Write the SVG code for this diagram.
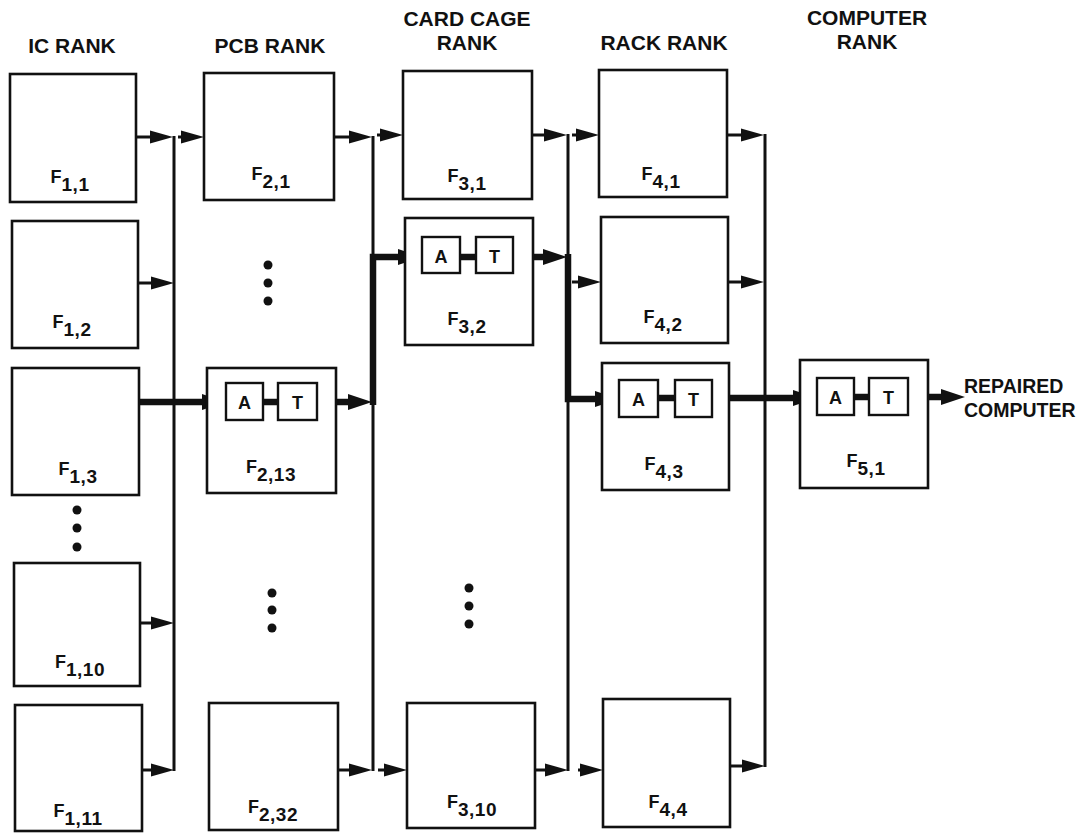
<svg xmlns="http://www.w3.org/2000/svg" width="1087" height="833" viewBox="0 0 1087 833">
<style>
.box{fill:#fff;stroke:#111;stroke-width:2.6}
.sb{fill:#fff;stroke:#111;stroke-width:2.4}
.hd{font-family:"Liberation Sans",Arial,sans-serif;font-weight:bold;font-size:21px;fill:#111;text-anchor:middle}
.lb{font-family:"Liberation Sans",Arial,sans-serif;font-weight:bold;font-size:18px;fill:#111;text-anchor:middle}
.sub{font-size:19px;letter-spacing:0.5px}
.at{font-family:"Liberation Sans",Arial,sans-serif;font-weight:bold;font-size:18px;fill:#111;text-anchor:middle}
.out{font-family:"Liberation Sans",Arial,sans-serif;font-weight:bold;font-size:19.5px;fill:#111}
.th{stroke:#111;stroke-width:3;fill:none}
.tk{stroke:#111;stroke-width:6.5;fill:none}
.dot{fill:#111}
</style>
<defs>
<marker id="ah" markerUnits="userSpaceOnUse" markerWidth="24" markerHeight="16" refX="0" refY="8" orient="auto" overflow="visible">
<path d="M0,1.5 L23,8 L0,14.5 z" fill="#111"/>
</marker>
<marker id="ahk" markerUnits="userSpaceOnUse" markerWidth="26" markerHeight="20" refX="0" refY="10" orient="auto" overflow="visible">
<path d="M0,2 L24,10 L0,18 z" fill="#111"/>
</marker>
</defs>
<rect width="1087" height="833" fill="#fff"/>

<g id="headers">
<text class="hd" x="72" y="53">IC RANK</text>
<text class="hd" x="270" y="53">PCB RANK</text>
<text class="hd" x="467" y="26">CARD CAGE</text>
<text class="hd" x="467" y="50">RANK</text>
<text class="hd" x="664" y="50">RACK RANK</text>
<text class="hd" x="867" y="25">COMPUTER</text>
<text class="hd" x="867" y="49">RANK</text>
</g>

<g id="connectors">
<line class="th" x1="174" y1="136" x2="174" y2="771"/>
<line class="th" x1="373" y1="136" x2="373" y2="771"/>
<line class="th" x1="568" y1="134" x2="568" y2="771"/>
<line class="th" x1="765" y1="134" x2="765" y2="767"/>
<line class="th" x1="136" y1="137" x2="150" y2="137" marker-end="url(#ah)"/>
<line class="th" x1="138" y1="283" x2="151" y2="283" marker-end="url(#ah)"/>
<line class="th" x1="140" y1="623" x2="151" y2="623" marker-end="url(#ah)"/>
<line class="th" x1="143" y1="770" x2="151" y2="770" marker-end="url(#ah)"/>
<line class="tk" x1="139" y1="402" x2="202" y2="402" marker-end="url(#ahk)"/>
<line class="th" x1="178" y1="137" x2="181" y2="137" marker-end="url(#ah)"/>
<line class="th" x1="334" y1="137" x2="349" y2="137" marker-end="url(#ah)"/>
<line class="th" x1="338" y1="770" x2="349" y2="770" marker-end="url(#ah)"/>
<line class="tk" x1="317" y1="402" x2="348" y2="402" marker-end="url(#ahk)"/>
<path class="tk" d="M373,405 L373,257 L398,257" marker-end="url(#ahk)"/>
<line class="th" x1="377" y1="135" x2="380" y2="135" marker-end="url(#ah)"/>
<line class="th" x1="378" y1="770" x2="384" y2="770" marker-end="url(#ah)"/>
<line class="th" x1="532" y1="135" x2="544" y2="135" marker-end="url(#ah)"/>
<line class="th" x1="535" y1="770" x2="545" y2="770" marker-end="url(#ah)"/>
<line class="tk" x1="513" y1="257" x2="543" y2="257" marker-end="url(#ahk)"/>
<path class="tk" d="M568,254 L568,399 L595,399" marker-end="url(#ahk)"/>
<line class="th" x1="572" y1="135" x2="576" y2="135" marker-end="url(#ah)"/>
<line class="th" x1="572" y1="282" x2="578" y2="282" marker-end="url(#ah)"/>
<line class="th" x1="578" y1="770" x2="580" y2="770" marker-end="url(#ah)"/>
<line class="th" x1="727" y1="135" x2="741" y2="135" marker-end="url(#ah)"/>
<line class="th" x1="728" y1="282" x2="741" y2="282" marker-end="url(#ah)"/>
<line class="th" x1="730" y1="766" x2="742" y2="766" marker-end="url(#ah)"/>
<line class="tk" x1="712" y1="398" x2="793" y2="398" marker-end="url(#ahk)"/>
<line class="tk" x1="908" y1="397" x2="941" y2="397" marker-end="url(#ahk)"/>
</g>

<g id="F11"><rect class="box" x="10" y="74" width="126" height="128"/><text class="lb" x="70" y="183">F<tspan class="sub" dy="8">1,1</tspan></text></g>
<g id="F12"><rect class="box" x="12" y="221" width="126" height="127"/><text class="lb" x="72" y="328">F<tspan class="sub" dy="8">1,2</tspan></text></g>
<g id="F13"><rect class="box" x="12" y="368" width="127" height="127"/><text class="lb" x="78" y="475">F<tspan class="sub" dy="8">1,3</tspan></text></g>
<g id="F110"><rect class="box" x="14" y="563" width="126" height="123"/><text class="lb" x="80" y="668">F<tspan class="sub" dy="8">1,10</tspan></text></g>
<g id="F111"><rect class="box" x="15" y="705" width="127" height="126"/><text class="lb" x="78" y="817">F<tspan class="sub" dy="8">1,11</tspan></text></g>

<g id="F21"><rect class="box" x="204" y="73" width="130" height="127"/><text class="lb" x="271" y="180">F<tspan class="sub" dy="8">2,1</tspan></text></g>
<g id="F213"><rect class="box" x="207" y="368" width="129" height="125"/>
<line class="tk" x1="263" y1="402" x2="278" y2="402"/>
<rect class="sb" x="226" y="383" width="37" height="37"/><text class="at" x="244.5" y="408.5">A</text>
<rect class="sb" x="278" y="383" width="39" height="37"/><text class="at" x="297.5" y="408.5">T</text>
<text class="lb" x="271" y="473">F<tspan class="sub" dy="8">2,13</tspan></text></g>
<g id="F232"><rect class="box" x="209" y="703" width="129" height="127"/><text class="lb" x="273" y="813">F<tspan class="sub" dy="8">2,32</tspan></text></g>

<g id="F31"><rect class="box" x="403" y="71" width="129" height="128"/><text class="lb" x="467" y="182">F<tspan class="sub" dy="8">3,1</tspan></text></g>
<g id="F32"><rect class="box" x="405" y="218" width="128" height="127"/>
<line class="tk" x1="460" y1="257" x2="476" y2="257"/>
<rect class="sb" x="422" y="237" width="38" height="36"/><text class="at" x="441" y="262.5">A</text>
<rect class="sb" x="476" y="237" width="37" height="36"/><text class="at" x="494.5" y="262.5">T</text>
<text class="lb" x="467" y="325">F<tspan class="sub" dy="8">3,2</tspan></text></g>
<g id="F310"><rect class="box" x="407" y="703" width="128" height="125"/><text class="lb" x="472" y="808">F<tspan class="sub" dy="8">3,10</tspan></text></g>

<g id="F41"><rect class="box" x="599" y="70" width="128" height="127"/><text class="lb" x="661" y="180">F<tspan class="sub" dy="8">4,1</tspan></text></g>
<g id="F42"><rect class="box" x="601" y="217" width="127" height="126"/><text class="lb" x="663" y="323">F<tspan class="sub" dy="8">4,2</tspan></text></g>
<g id="F43"><rect class="box" x="602" y="363" width="127" height="127"/>
<line class="tk" x1="658" y1="398" x2="675" y2="398"/>
<rect class="sb" x="619" y="380" width="39" height="37"/><text class="at" x="638.5" y="405.5">A</text>
<rect class="sb" x="675" y="380" width="37" height="37"/><text class="at" x="693.5" y="405.5">T</text>
<text class="lb" x="664" y="470">F<tspan class="sub" dy="8">4,3</tspan></text></g>
<g id="F44"><rect class="box" x="603" y="699" width="127" height="128"/><text class="lb" x="668" y="808">F<tspan class="sub" dy="8">4,4</tspan></text></g>

<g id="F51"><rect class="box" x="800" y="360" width="128" height="128"/>
<line class="tk" x1="854" y1="397" x2="869" y2="397"/>
<rect class="sb" x="817" y="378" width="37" height="37"/><text class="at" x="835.5" y="403.5">A</text>
<rect class="sb" x="869" y="378" width="39" height="37"/><text class="at" x="888.5" y="403.5">T</text>
<text class="lb" x="866" y="467">F<tspan class="sub" dy="8">5,1</tspan></text></g>

<g id="output">
<text class="out" x="964" y="393">REPAIRED</text>
<text class="out" x="964" y="417">COMPUTER</text>
</g>

<g id="ellipses">
<circle class="dot" cx="77" cy="510" r="4.5"/><circle class="dot" cx="77" cy="528" r="4.5"/><circle class="dot" cx="77" cy="547" r="4.5"/>
<circle class="dot" cx="268" cy="265" r="4.5"/><circle class="dot" cx="268" cy="283" r="4.5"/><circle class="dot" cx="268" cy="301" r="4.5"/>
<circle class="dot" cx="272" cy="593" r="4.5"/><circle class="dot" cx="272" cy="610" r="4.5"/><circle class="dot" cx="272" cy="628" r="4.5"/>
<circle class="dot" cx="469" cy="588" r="4.5"/><circle class="dot" cx="469" cy="606" r="4.5"/><circle class="dot" cx="469" cy="624" r="4.5"/>
</g>
</svg>
